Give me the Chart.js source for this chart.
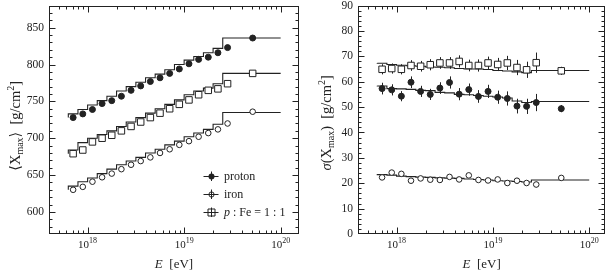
<!DOCTYPE html>
<html>
<head>
<meta charset="utf-8">
<title>Xmax and sigma(Xmax)</title>
<script src="https://cdn.jsdelivr.net/npm/chart.js@4.4.0/dist/chart.umd.min.js"></script>
<style>
    body { margin: 0; background: #fff; }
    #wrap { position: relative; width: 611px; height: 274px; }
    canvas { position: absolute; top: 0; }
    #cl { left: 0; }
    #cr { left: 305px; }
</style>
</head>
<body>
<div id="wrap">
    <canvas id="cl" width="305" height="274"></canvas>
    <canvas id="cr" width="306" height="274"></canvas>
</div>
<script>
// energy bins in log10(E/eV): edges and the point positions
const lgEdges = [17.8, 17.9, 18.0, 18.1, 18.2, 18.3, 18.4, 18.5, 18.6, 18.7, 18.8, 18.9, 19.0, 19.1, 19.2, 19.3, 19.4, 19.5, 20.0];
const lgE = [17.85, 17.95, 18.05, 18.15, 18.25, 18.35, 18.45, 18.55, 18.65, 18.75, 18.85, 18.95, 19.05, 19.15, 19.25, 19.35, 19.45, 19.71];

// <Xmax> [g/cm2]
const xmaxProton = [728, 733, 739, 747, 751, 757, 765, 771, 777, 782, 788, 794, 801, 807, 810, 816, 823, 836];
const xmaxMixed  = [679, 684, 695, 700, 704, 710, 716, 722, 728, 734, 740, 746, 752, 759, 765, 767, 774, 788];
const xmaxIron   = [630, 634, 641, 647, 652, 658, 664, 669, 674, 680, 685, 691, 696, 702, 707, 712, 720, 736];
// model histograms (one value per bin, last bin 19.5-20)
const modelXmaxProton = [728, 733, 739, 745, 751, 757, 764, 770, 776, 782, 787, 793, 800, 806, 811, 816, 822, 836];
const modelXmaxMixed  = [679, 684, 694, 700, 705, 710, 716, 722, 728, 734, 740, 746, 752, 759, 764, 768, 774, 788];
const modelXmaxIron   = [630, 635, 641, 646, 652, 658, 664, 669, 674, 680, 685, 691, 696, 702, 707, 712, 719, 735];

// sigma(Xmax) [g/cm2]
const sigmaProton    = [57.3, 56.8, 54.3, 59.8, 56.2, 55.0, 57.5, 59.7, 55.1, 56.9, 54.2, 56.2, 53.9, 53.4, 50.4, 50.3, 51.8, 49.4];
const sigmaProtonErr = [2.3, 2.2, 2.0, 2.3, 2.2, 2.2, 2.3, 2.4, 2.4, 2.4, 2.5, 2.6, 2.6, 2.8, 2.9, 3.0, 3.4, 1.4];
const sigmaMixed     = [64.9, 65.2, 64.9, 66.4, 66.1, 66.7, 67.4, 67.4, 68.0, 66.4, 66.4, 67.4, 66.8, 67.4, 65.6, 64.7, 67.5, 64.3];
const sigmaMixedErr  = [2.0, 2.0, 2.0, 2.1, 2.1, 2.2, 2.3, 2.3, 2.4, 2.3, 2.4, 2.5, 2.6, 2.8, 3.0, 3.2, 4.0, 1.6];
const sigmaIron      = [22.3, 24.2, 23.7, 21.0, 21.9, 21.4, 21.3, 22.5, 21.5, 23.1, 21.3, 21.1, 21.5, 20.1, 21.0, 20.1, 19.5, 22.1];
const sigmaIronErr   = [0.8, 0.8, 0.8, 0.8, 0.8, 0.8, 0.8, 0.8, 0.8, 0.8, 0.8, 0.9, 0.9, 0.9, 1.0, 1.0, 1.1, 0.6];
const modelSigmaProton = [58.4, 58.3, 57.3, 57.2, 57.0, 56.6, 56.5, 55.8, 55.6, 55.0, 54.9, 54.6, 54.3, 54.0, 53.6, 52.4, 51.8, 52.2];
const modelSigmaMixed  = [67.4, 67.3, 66.8, 66.5, 66.3, 66.1, 65.8, 65.7, 65.5, 65.2, 65.0, 65.0, 64.8, 64.4, 64.2, 63.9, 63.6, 64.4];
const modelSigmaIron   = [23.6, 23.4, 23.2, 22.8, 22.6, 22.4, 22.3, 22.1, 22.0, 21.9, 21.7, 21.5, 21.3, 21.0, 20.9, 20.7, 20.5, 21.3];

// axes
const xDecades = [18, 19, 20];
const yTicksLeft = [600, 650, 700, 750, 800, 850];
const yTicksRight = [0, 10, 20, 30, 40, 50, 60, 70, 80, 90];
const legendLabels = ['proton', 'iron', 'p : Fe = 1 : 1'];

const INK = '#222';
const SERIF = '"Liberation Serif", "DejaVu Serif", serif';

function pts(xs, ys) { return ys.map((v, i) => ({ x: xs[i], y: v })); }
function steps(vals) {
    // histogram outline: value i spans edge i .. edge i+1
    const d = vals.map((v, i) => ({ x: lgEdges[i], y: v }));
    d.push({ x: lgEdges[lgEdges.length - 1], y: vals[vals.length - 1] });
    return d;
}

function rich(ctx, parts, x, y) {
    let w = 0;
    parts.forEach(p => { ctx.font = p[1]; w += ctx.measureText(p[0]).width; });
    let cx = x - w / 2;
    parts.forEach(p => {
        ctx.font = p[1];
        ctx.fillText(p[0], cx, y + (p[2] || 0));
        cx += ctx.measureText(p[0]).width;
    });
}

function line(ctx, x1, y1, x2, y2) {
    ctx.beginPath(); ctx.moveTo(x1, y1); ctx.lineTo(x2, y2); ctx.stroke();
}

// error bars, frame with inner ticks, tick labels on x, titles, legend
const decor = {
    id: 'decor',
    beforeDatasetsDraw(chart) {
        const o = chart.options.plugins.decor;
        if (!o.errors) return;
        const { ctx, scales: { x, y } } = chart;
        ctx.save();
        ctx.strokeStyle = INK; ctx.lineWidth = 1;
        o.errors.forEach(e => {
            e.vals.forEach((v, i) => {
                const px = Math.round(x.getPixelForValue(lgE[i])) + 0.5;
                line(ctx, px, y.getPixelForValue(v - e.err[i]), px, y.getPixelForValue(v + e.err[i]));
            });
        });
        ctx.restore();
    },
    afterDraw(chart) {
        const o = chart.options.plugins.decor;
        const { ctx, chartArea: a, scales: { x, y } } = chart;
        ctx.save();
        ctx.strokeStyle = INK; ctx.lineWidth = 1;
        const L = Math.round(a.left) + 0.5, R = Math.round(a.right) - 0.5;
        const T = Math.round(a.top) + 0.5, B = Math.round(a.bottom) - 0.5;
        ctx.strokeRect(L, T, R - L, B - T);
        // x ticks (log decades)
        for (let d = 17; d <= 20; d++) {
            for (let k = 1; k <= 9; k++) {
                const v = d + Math.log10(k);
                if (v <= x.min || v >= x.max) continue;
                const px = Math.round(x.getPixelForValue(v)) + 0.5;
                const len = k === 1 ? 6 : 3;
                line(ctx, px, B, px, B - len);
                line(ctx, px, T, px, T + len);
            }
        }
        // y ticks
        for (let v = o.yMin; v <= o.yMax; v += o.yMinor) {
            if (v <= y.min || v >= y.max) continue;
            const py = Math.round(y.getPixelForValue(v)) + 0.5;
            const len = (v % o.yMajor === 0) ? 6 : 3;
            line(ctx, L, py, L + len, py);
            line(ctx, R, py, R - len, py);
        }
        ctx.fillStyle = INK;
        ctx.textBaseline = 'alphabetic';
        // x tick labels 10^n
        xDecades.forEach(d => {
            const px = x.getPixelForValue(d);
            rich(ctx, [['10', '11px ' + SERIF], [String(d), '8px ' + SERIF, -5]], px, 248);
        });
        // x title
        rich(ctx, [['E', 'italic 13px ' + SERIF], ['  [eV]', '13px ' + SERIF]], (a.left + a.right) / 2, 268);
        // y title
        ctx.save();
        ctx.translate(o.yTitleX, (a.top + a.bottom) / 2 + o.yTitleShift);
        ctx.rotate(-Math.PI / 2);
        rich(ctx, o.yTitle, 0, 0);
        ctx.restore();
        // legend
        if (o.legend) {
            const mx = 211, tx = 224, rows = [176, 194, 212];
            rows.forEach((ry, i) => {
                line(ctx, mx - 7.5, ry + 0.5, mx + 7.5, ry + 0.5);
                line(ctx, mx + 0.5, ry - 4.5, mx + 0.5, ry + 5);
                ctx.beginPath();
                if (i === 2) {
                    ctx.rect(mx - 3, ry - 3, 7, 7);
                    ctx.fillStyle = '#fff'; ctx.fill(); ctx.stroke();
                    line(ctx, mx - 3, ry + 0.5, mx + 4, ry + 0.5);
                    line(ctx, mx + 0.5, ry - 3, mx + 0.5, ry + 4);
                } else if (i === 0) {
                    ctx.arc(mx + 0.5, ry + 0.5, 3, 0, Math.PI * 2);
                    ctx.fillStyle = INK; ctx.fill();
                } else {
                    ctx.arc(mx + 0.5, ry + 0.5, 2.6, 0, Math.PI * 2);
                    ctx.stroke();
                }
                ctx.fillStyle = INK;
                ctx.font = '12px ' + SERIF;
                ctx.textAlign = 'left';
                if (i === 2) {
                    ctx.font = 'italic 12px ' + SERIF;
                    ctx.fillText('p', tx, ry + 4);
                    const w = ctx.measureText('p').width;
                    ctx.font = '12px ' + SERIF;
                    ctx.fillText(legendLabels[i].slice(1), tx + w, ry + 4);
                } else {
                    ctx.fillText(legendLabels[i], tx, ry + 4);
                }
            });
        }
        ctx.restore();
    }
};

function makeChart(id, cfg) {
    const lineSet = (vals) => ({
        type: 'line', data: steps(vals), stepped: 'after', borderColor: INK, borderWidth: 1.1,
        pointRadius: 0, fill: false, order: 2
    });
    const pointSet = (vals, style) => Object.assign({
        type: 'scatter', data: pts(lgE, vals), borderColor: INK, pointBorderWidth: 1,
        showLine: false, order: 1
    }, style);
    const filledDot = { pointStyle: 'circle', pointRadius: 3, pointBackgroundColor: INK };
    const openSquare = { pointStyle: 'rect', pointRadius: 4.6, pointBackgroundColor: '#fff' };
    const openDot = { pointStyle: 'circle', pointRadius: 2.8, pointBackgroundColor: '#fff' };

    return new Chart(document.getElementById(id), {
        type: 'scatter',
        data: {
            datasets: [
                lineSet(cfg.model[0]), lineSet(cfg.model[1]), lineSet(cfg.model[2]),
                pointSet(cfg.vals[0], filledDot),
                pointSet(cfg.vals[1], openSquare),
                pointSet(cfg.vals[2], openDot)
            ]
        },
        options: {
            responsive: false,
            animation: false,
            devicePixelRatio: 1,
            layout: { padding: { top: 5, right: cfg.padRight, left: 0, bottom: 0 } },
            plugins: {
                legend: { display: false },
                tooltip: { enabled: false },
                decor: cfg.decor
            },
            scales: {
                x: {
                    type: 'linear', min: 17.6, max: cfg.xMax,
                    grid: { display: false, drawTicks: false }, border: { display: false },
                    ticks: { display: false },
                    afterFit(s) { s.height = 40; s.paddingLeft = 0; s.paddingRight = 0; }
                },
                y: {
                    type: 'linear', min: cfg.yMin, max: cfg.yMax,
                    grid: { display: false, drawTicks: false }, border: { display: false },
                    afterBuildTicks(s) { s.ticks = cfg.yTicks.map(v => ({ value: v })); },
                    ticks: { color: INK, padding: 5, font: { family: SERIF, size: 11.5 } },
                    afterFit(s) { s.width = cfg.yWidth; s.paddingTop = 0; s.paddingBottom = 0; }
                }
            }
        },
        plugins: [decor]
    });
}

makeChart('cl', {
    vals: [xmaxProton, xmaxMixed, xmaxIron],
    model: [modelXmaxProton, modelXmaxMixed, modelXmaxIron],
    yMin: 570, yMax: 880, yTicks: yTicksLeft, yWidth: 49, padRight: 6, xMax: 20.19,
    decor: {
        yMin: 570, yMax: 880, yMinor: 10, yMajor: 50, yTitleX: 20, yTitleShift: 6, legend: true,
        yTitle: [['\u27E8X', '14.5px ' + SERIF], ['max', '10px ' + SERIF, 3], ['\u27E9  [g/cm', '14.5px ' + SERIF], ['2', '10px ' + SERIF, -6], [']', '14.5px ' + SERIF]]
    }
});

makeChart('cr', {
    vals: [sigmaProton, sigmaMixed, sigmaIron],
    model: [modelSigmaProton, modelSigmaMixed, modelSigmaIron],
    yMin: 0, yMax: 90, yTicks: yTicksRight, yWidth: 53, padRight: 1, xMax: 20.168,
    decor: {
        yMin: 0, yMax: 90, yMinor: 2, yMajor: 10, yTitleX: 26, yTitleShift: 3, legend: false,
        errors: [
            { vals: sigmaProton, err: sigmaProtonErr },
            { vals: sigmaMixed, err: sigmaMixedErr },
            { vals: sigmaIron, err: sigmaIronErr }
        ],
        yTitle: [['\u03C3', 'italic 14.5px ' + SERIF], ['(X', '14.5px ' + SERIF], ['max', '10px ' + SERIF, 3], [')  [g/cm', '14.5px ' + SERIF], ['2', '10px ' + SERIF, -6], [']', '14.5px ' + SERIF]]
    }
});
</script>
</body>
</html>
